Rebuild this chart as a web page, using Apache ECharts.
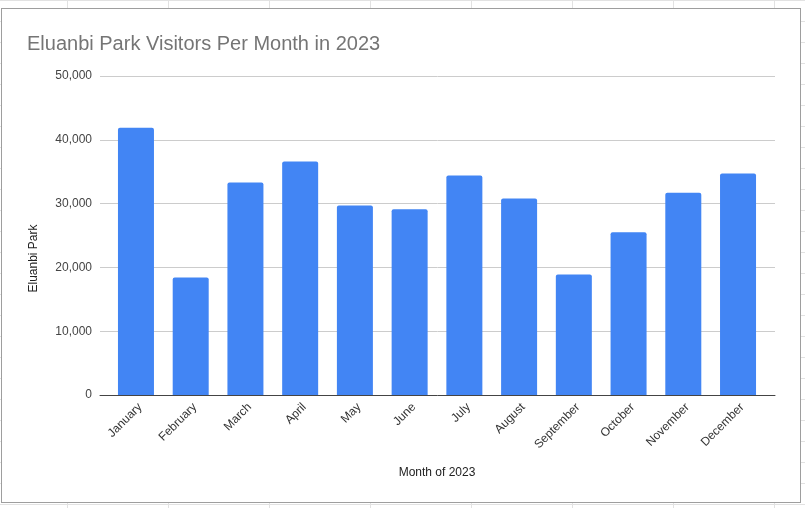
<!DOCTYPE html>
<html>
<head>
<meta charset="utf-8">
<script src="https://cdn.jsdelivr.net/npm/echarts@6/dist/echarts.min.js"></script>
<style>
    html, body {
        margin: 0;
        padding: 0;
        width: 805px;
        height: 508px;
        overflow: hidden;
        background-color: #fff;
        background-image: linear-gradient(to right, #e2e2e2 1px, transparent 1px),
                          linear-gradient(to bottom, #e2e2e2 1px, transparent 1px);
        background-size: 101px 21px;
        background-position: 67px 0;
    }
    #charts {
        position: absolute;
        left: 1px;
        top: 8px;
        width: 798px;
        height: 493px;
        border: 1px solid #9e9e9e;
        background: #fff;
    }
</style>
</head>
<body>
<div id="charts"></div>
<script>
    var months = ['January', 'February', 'March', 'April', 'May', 'June',
        'July', 'August', 'September', 'October', 'November', 'December'];
    var visitors = [41900, 18400, 33300, 36600, 29700, 29100,
        34400, 30800, 18900, 25500, 31700, 34700];
    var yTicks = [0, 10000, 20000, 30000, 40000, 50000];

    (function () {
        var dom = document.getElementById('charts');
        var myChart = echarts.init(dom, null, {renderer: 'canvas'});
        var font = 'Arial, "Liberation Sans", sans-serif';

        var option = {
            animation: false,
            title: {
                text: 'Eluanbi Park Visitors Per Month in 2023',
                left: 20,
                top: 20,
                textStyle: {
                    fontFamily: font,
                    fontSize: 20,
                    fontWeight: 'normal',
                    color: '#757575'
                }
            },
            grid: [
                // full width: axis line + gridlines
                {left: 98, right: 25, top: 67, bottom: 107},
                // inner: bars
                {left: 106.6, right: 34.6, top: 67, bottom: 107}
            ],
            xAxis: [
                {
                    gridIndex: 0,
                    type: 'value',
                    min: 0,
                    max: 1,
                    axisLabel: {show: false},
                    axisTick: {show: false},
                    splitLine: {show: false},
                    axisLine: {show: true, lineStyle: {color: '#444', width: 1}}
                },
                {
                    gridIndex: 1,
                    type: 'category',
                    data: months,
                    axisLine: {show: false},
                    axisTick: {show: false},
                    axisLabel: {
                        rotate: 45,
                        interval: 0,
                        margin: 6,
                        verticalAlign: 'top',
                        fontFamily: font,
                        fontSize: 12,
                        color: '#333'
                    },
                    name: 'Month of 2023',
                    nameLocation: 'middle',
                    nameGap: 72,
                    nameTextStyle: {fontFamily: font, fontSize: 12, color: '#222'}
                }
            ],
            yAxis: [
                {
                    gridIndex: 0,
                    type: 'value',
                    min: yTicks[0],
                    max: yTicks[yTicks.length - 1],
                    interval: yTicks[1] - yTicks[0],
                    axisLine: {show: false},
                    axisTick: {show: false},
                    splitLine: {lineStyle: {color: '#cccccc', width: 1}},
                    axisLabel: {
                        margin: 8,
                        fontFamily: font,
                        fontSize: 12,
                        color: '#444',
                        formatter: function (v) {
                            return v.toLocaleString('en-US');
                        }
                    },
                    name: 'Eluanbi Park',
                    nameLocation: 'middle',
                    nameGap: 60,
                    nameTextStyle: {fontFamily: font, fontSize: 12, color: '#222', padding: [0, 46, 0, 0]}
                },
                {
                    gridIndex: 1,
                    type: 'value',
                    min: yTicks[0],
                    max: yTicks[yTicks.length - 1],
                    interval: yTicks[1] - yTicks[0],
                    show: false
                }
            ],
            series: [
                {
                    name: 'Eluanbi Park',
                    type: 'bar',
                    xAxisIndex: 1,
                    yAxisIndex: 1,
                    data: visitors,
                    barWidth: 36,
                    itemStyle: {
                        color: '#4285f4',
                        borderRadius: [2, 2, 0, 0]
                    }
                }
            ]
        };
        myChart.setOption(option, true);
    })();
</script>
</body>
</html>
